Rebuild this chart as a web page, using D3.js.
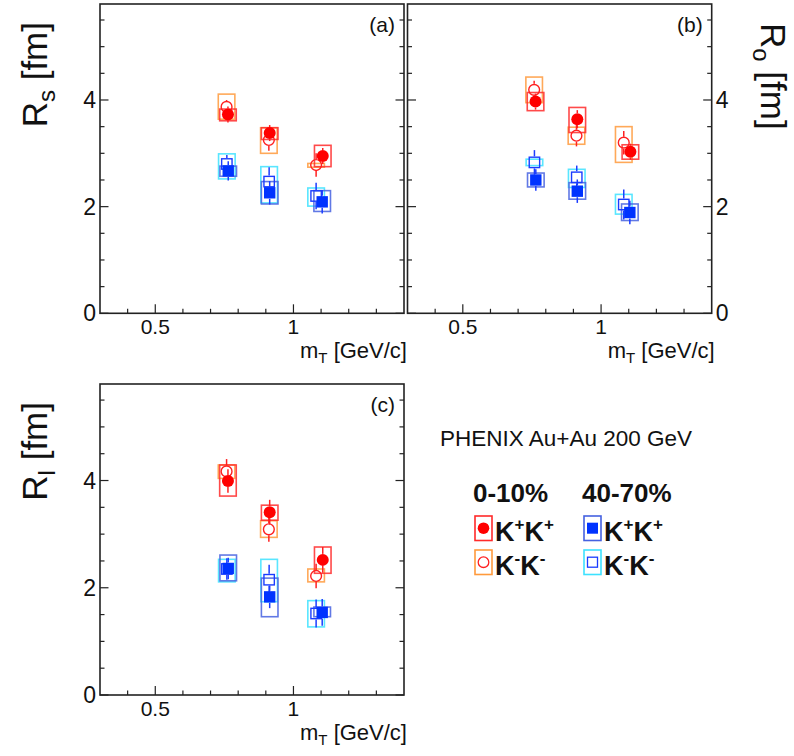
<!DOCTYPE html>
<html><head><meta charset="utf-8">
<script src="https://cdn.jsdelivr.net/npm/d3@7"></script>
<style>
body{margin:0;background:#fff;}
svg{display:block;font-family:"Liberation Sans",Arial,Helvetica,sans-serif;}
</style></head>
<body><svg id="chart" width="794" height="756"></svg>
<script>
// ---------- data ----------
const xDomain = [0.3, 1.4];
const yDomain = [0, 5.8];
const xMajorTicks = [0.5, 1];
const xTickLabels = ["0.5", "1"];
const yMajorTicks = [0, 2, 4];
const yTickLabels = ["0", "2", "4"];
const sysHalfWidth = 0.03;

const mT_0010_KpKp = [0.763, 0.914, 1.106];
const mT_0010_KmKm = [0.758, 0.911, 1.082];
const mT_4070_KpKp = [0.764, 0.914, 1.104];
const mT_4070_KmKm = [0.759, 0.912, 1.082];

// Panel (a) R_s
const Rs_0010_KpKp = [3.73, 3.38, 2.95], Rs_0010_KpKp_stat = [0.15, 0.15, 0.15], Rs_0010_KpKp_sysLo = [3.61, 3.26, 2.75], Rs_0010_KpKp_sysHi = [3.83, 3.48, 3.15];
const Rs_0010_KmKm = [3.87, 3.25, 2.78], Rs_0010_KmKm_stat = [0.13, 0.20, 0.22], Rs_0010_KmKm_sysLo = [3.64, 3.00, 2.74], Rs_0010_KmKm_sysHi = [4.11, 3.48, 2.81];
const Rs_4070_KpKp = [2.67, 2.26, 2.09], Rs_4070_KpKp_stat = [0.18, 0.22, 0.22], Rs_4070_KpKp_sysLo = [2.57, 2.05, 1.91], Rs_4070_KpKp_sysHi = [2.76, 2.47, 2.30];
const Rs_4070_KmKm = [2.80, 2.47, 2.20], Rs_4070_KmKm_stat = [0.17, 0.27, 0.25], Rs_4070_KmKm_sysLo = [2.52, 2.07, 2.01], Rs_4070_KmKm_sysHi = [2.99, 2.75, 2.35];

// Panel (b) R_o
const Ro_0010_KpKp = [3.97, 3.64, 3.03], Ro_0010_KpKp_stat = [0.15, 0.17, 0.15], Ro_0010_KpKp_sysLo = [3.80, 3.39, 2.89], Ro_0010_KpKp_sysHi = [4.14, 3.86, 3.16];
const Ro_0010_KmKm = [4.19, 3.33, 3.20], Ro_0010_KmKm_stat = [0.17, 0.20, 0.22], Ro_0010_KmKm_sysLo = [3.95, 3.17, 2.83], Ro_0010_KmKm_sysHi = [4.43, 3.49, 3.50];
const Ro_4070_KpKp = [2.50, 2.29, 1.89], Ro_4070_KpKp_stat = [0.20, 0.22, 0.22], Ro_4070_KpKp_sysLo = [2.37, 2.14, 1.74], Ro_4070_KpKp_sysHi = [2.63, 2.45, 2.05];
const Ro_4070_KmKm = [2.83, 2.55, 2.04], Ro_4070_KmKm_stat = [0.23, 0.22, 0.28], Ro_4070_KmKm_sysLo = [2.77, 2.36, 1.86], Ro_4070_KmKm_sysHi = [2.89, 2.70, 2.23];

// Panel (c) R_l
const Rl_0010_KpKp = [3.99, 3.41, 2.52], Rl_0010_KpKp_stat = [0.22, 0.23, 0.24], Rl_0010_KpKp_sysLo = [3.71, 3.26, 2.27], Rl_0010_KpKp_sysHi = [4.29, 3.54, 2.76];
const Rl_0010_KmKm = [4.17, 3.09, 2.22], Rl_0010_KmKm_stat = [0.23, 0.23, 0.23], Rl_0010_KmKm_sysLo = [4.04, 2.94, 2.11], Rl_0010_KmKm_sysHi = [4.29, 3.25, 2.35];
const Rl_4070_KpKp = [2.36, 1.83, 1.54], Rl_4070_KpKp_stat = [0.20, 0.21, 0.25], Rl_4070_KpKp_sysLo = [2.13, 1.46, 1.46], Rl_4070_KpKp_sysHi = [2.61, 2.18, 1.64];
const Rl_4070_KmKm = [2.35, 2.15, 1.52], Rl_4070_KmKm_stat = [0.20, 0.28, 0.26], Rl_4070_KmKm_sysLo = [2.11, 1.74, 1.27], Rl_4070_KmKm_sysHi = [2.53, 2.53, 1.76];

const panelLabels = ["(a)", "(b)", "(c)"];
const legendTitle = "PHENIX Au+Au 200 GeV";
const centralityLabels = ["0-10%", "40-70%"];

// ---------- styles ----------
const style = {
  "0010_KpKp": {box: "#ff2a2a", mk: "#ff0000", err: "#ff2020", shape: "circle", filled: true},
  "0010_KmKm": {box: "#ff9a3c", mk: "#ff2020", err: "#ff2020", shape: "circle", filled: false},
  "4070_KpKp": {box: "#4561e0", mk: "#0033ff", err: "#1a3cff", shape: "square", filled: true},
  "4070_KmKm": {box: "#3de2ff", mk: "#1a3cff", err: "#1a3cff", shape: "square", filled: false}
};

function series(key, mT, v, stat, lo, hi) {
  return {key, pts: mT.map((m, i) => ({m, v: v[i], s: stat[i], lo: lo[i], hi: hi[i]}))};
}
const panelData = [
  [series("0010_KmKm", mT_0010_KmKm, Rs_0010_KmKm, Rs_0010_KmKm_stat, Rs_0010_KmKm_sysLo, Rs_0010_KmKm_sysHi),
   series("0010_KpKp", mT_0010_KpKp, Rs_0010_KpKp, Rs_0010_KpKp_stat, Rs_0010_KpKp_sysLo, Rs_0010_KpKp_sysHi),
   series("4070_KmKm", mT_4070_KmKm, Rs_4070_KmKm, Rs_4070_KmKm_stat, Rs_4070_KmKm_sysLo, Rs_4070_KmKm_sysHi),
   series("4070_KpKp", mT_4070_KpKp, Rs_4070_KpKp, Rs_4070_KpKp_stat, Rs_4070_KpKp_sysLo, Rs_4070_KpKp_sysHi)],
  [series("0010_KmKm", mT_0010_KmKm, Ro_0010_KmKm, Ro_0010_KmKm_stat, Ro_0010_KmKm_sysLo, Ro_0010_KmKm_sysHi),
   series("0010_KpKp", mT_0010_KpKp, Ro_0010_KpKp, Ro_0010_KpKp_stat, Ro_0010_KpKp_sysLo, Ro_0010_KpKp_sysHi),
   series("4070_KmKm", mT_4070_KmKm, Ro_4070_KmKm, Ro_4070_KmKm_stat, Ro_4070_KmKm_sysLo, Ro_4070_KmKm_sysHi),
   series("4070_KpKp", mT_4070_KpKp, Ro_4070_KpKp, Ro_4070_KpKp_stat, Ro_4070_KpKp_sysLo, Ro_4070_KpKp_sysHi)],
  [series("0010_KmKm", mT_0010_KmKm, Rl_0010_KmKm, Rl_0010_KmKm_stat, Rl_0010_KmKm_sysLo, Rl_0010_KmKm_sysHi),
   series("0010_KpKp", mT_0010_KpKp, Rl_0010_KpKp, Rl_0010_KpKp_stat, Rl_0010_KpKp_sysLo, Rl_0010_KpKp_sysHi),
   series("4070_KmKm", mT_4070_KmKm, Rl_4070_KmKm, Rl_4070_KmKm_stat, Rl_4070_KmKm_sysLo, Rl_4070_KmKm_sysHi),
   series("4070_KpKp", mT_4070_KpKp, Rl_4070_KpKp, Rl_4070_KpKp_stat, Rl_4070_KpKp_sysLo, Rl_4070_KpKp_sysHi)]
];

// ---------- layout ----------
const panels = [
  {x0: 100, x1: 404, y0: 4, y1: 313.3, labelSide: "left", title: ["R", "s", " [fm]"]},
  {x0: 407.5, x1: 711.7, y0: 4, y1: 313.3, labelSide: "right", title: ["R", "o", " [fm]"]},
  {x0: 100, x1: 404, y0: 384, y1: 695, labelSide: "left", title: ["R", "l", " [fm]"]}
];
const svg = d3.select("#chart");
const FRAME = "#222";
const MR = 6;

panels.forEach((p, pi) => {
  const xs = d3.scaleLinear().domain(xDomain).range([p.x0, p.x1]);
  const ys = d3.scaleLinear().domain(yDomain).range([p.y1, p.y0]);
  const g = svg.append("g");

  // x ticks (bottom only)
  const xMinor = d3.range(4, 14).map(d => d / 10);
  g.selectAll(".xt").data(xMinor).join("line")
    .attr("x1", d => xs(d)).attr("x2", d => xs(d))
    .attr("y1", p.y1).attr("y2", d => p.y1 - (xMajorTicks.some(t => Math.abs(t - d) < 1e-6) ? 9 : 4.5))
    .attr("stroke", FRAME).attr("stroke-width", 1.2);
  g.selectAll(".xl").data(xMajorTicks).join("text")
    .attr("x", d => xs(d)).attr("y", p.y1 + 21).attr("text-anchor", "middle")
    .attr("font-size", 21).attr("fill", "#111").text((d, i) => xTickLabels[i]);

  // y ticks both sides
  const yMinor = d3.range(0, 12).map(d => d / 2).filter(d => d <= yDomain[1]);
  [p.x0, p.x1].forEach((ax, side) => {
    const dir = side === 0 ? 1 : -1;
    g.selectAll(".yt" + side).data(yMinor).join("line")
      .attr("x1", ax).attr("x2", d => ax + dir * (yMajorTicks.includes(d) ? 8.5 : 4.5))
      .attr("y1", d => ys(d)).attr("y2", d => ys(d))
      .attr("stroke", FRAME).attr("stroke-width", 1.2);
  });
  const left = p.labelSide === "left";
  g.selectAll(".yl").data(yMajorTicks).join("text")
    .attr("x", left ? p.x0 - 4 : p.x1 + 4).attr("y", d => ys(d) + 8)
    .attr("text-anchor", left ? "end" : "start")
    .attr("font-size", 23).attr("fill", "#111").text((d, i) => yTickLabels[i]);

  // frame
  g.append("rect").attr("x", p.x0).attr("y", p.y0).attr("width", p.x1 - p.x0).attr("height", p.y1 - p.y0)
    .attr("fill", "none").attr("stroke", FRAME).attr("stroke-width", 1.6);

  // panel label
  g.append("text").attr("x", p.x1 - 9).attr("y", p.y0 + 28).attr("text-anchor", "end")
    .attr("font-size", 21).attr("fill", "#111").text(panelLabels[pi]);

  // x title
  const xt = g.append("text").attr("x", p.x1 + 3).attr("y", p.y1 + 45).attr("text-anchor", "end")
    .attr("font-size", 22).attr("fill", "#111");
  xt.append("tspan").text("m");
  xt.append("tspan").attr("font-size", 15).attr("dy", 5).text("T");
  xt.append("tspan").attr("dy", -5).text(" [GeV/c]");

  // y title
  let yt;
  if (left) {
    yt = g.append("text").attr("transform", `translate(47,${p.y0 + 18}) rotate(-90)`).attr("text-anchor", "end");
  } else {
    yt = g.append("text").attr("transform", `translate(761,${p.y0 + 19}) rotate(90)`).attr("text-anchor", "start");
  }
  yt.attr("font-size", 35).attr("fill", "#111");
  yt.append("tspan").text(p.title[0]);
  yt.append("tspan").attr("font-size", 24).attr("dy", 8).text(p.title[1]);
  yt.append("tspan").attr("dy", -8).text(p.title[2]);

  // data: systematic boxes
  const data = panelData[pi];
  data.forEach(s => {
    const st = style[s.key];
    g.selectAll(null).data(s.pts).join("rect")
      .attr("x", d => xs(d.m - sysHalfWidth)).attr("width", d => xs(d.m + sysHalfWidth) - xs(d.m - sysHalfWidth))
      .attr("y", d => ys(d.hi)).attr("height", d => ys(d.lo) - ys(d.hi))
      .attr("fill", "none").attr("stroke", st.box).attr("stroke-width", 1.6).attr("stroke-opacity", 0.85);
  });
  // stat error bars (skip inside marker)
  data.forEach(s => {
    const st = style[s.key];
    s.pts.forEach(d => {
      const cx = xs(d.m), cy = ys(d.v);
      const top = ys(d.v + d.s), bot = ys(d.v - d.s);
      if (top < cy - MR) g.append("line").attr("x1", cx).attr("x2", cx).attr("y1", top).attr("y2", cy - MR)
        .attr("stroke", st.err).attr("stroke-width", 1.5);
      if (bot > cy + MR) g.append("line").attr("x1", cx).attr("x2", cx).attr("y1", cy + MR).attr("y2", bot)
        .attr("stroke", st.err).attr("stroke-width", 1.5);
    });
  });
  // markers
  data.forEach(s => {
    const st = style[s.key];
    if (st.shape === "circle") {
      g.selectAll(null).data(s.pts).join("circle")
        .attr("cx", d => xs(d.m)).attr("cy", d => ys(d.v)).attr("r", st.filled ? MR : MR - 0.6)
        .attr("fill", st.filled ? st.mk : "none").attr("stroke", st.mk).attr("stroke-width", st.filled ? 0 : 1.4);
    } else {
      const h = st.filled ? MR - 0.3 : MR - 0.8;
      g.selectAll(null).data(s.pts).join("rect")
        .attr("x", d => xs(d.m) - h).attr("y", d => ys(d.v) - h).attr("width", 2 * h).attr("height", 2 * h)
        .attr("fill", st.filled ? st.mk : "none").attr("stroke", st.mk).attr("stroke-width", st.filled ? 0 : 1.4);
    }
  });
});

// ---------- legend ----------
const lg = svg.append("g");
lg.append("text").attr("x", 440).attr("y", 446).attr("font-size", 22.5).attr("fill", "#111").text(legendTitle);
lg.append("text").attr("x", 473).attr("y", 502).attr("font-size", 26).attr("font-weight", "bold").attr("fill", "#111").text(centralityLabels[0]);
lg.append("text").attr("x", 582).attr("y", 502).attr("font-size", 26).attr("font-weight", "bold").attr("fill", "#111").text(centralityLabels[1]);

const legendEntries = [
  {key: "0010_KpKp", bx: 475, by: 516, sign: "+"},
  {key: "0010_KmKm", bx: 475, by: 550, sign: "-"},
  {key: "4070_KpKp", bx: 584, by: 516, sign: "+"},
  {key: "4070_KmKm", bx: 584, by: 550, sign: "-"}
];
legendEntries.forEach(e => {
  const st = style[e.key];
  lg.append("rect").attr("x", e.bx).attr("y", e.by).attr("width", 17).attr("height", 24.5)
    .attr("fill", "none").attr("stroke", st.box).attr("stroke-width", 1.6);
  const cx = e.bx + 8.5, cy = e.by + 12.2;
  if (st.shape === "circle") {
    lg.append("circle").attr("cx", cx).attr("cy", cy).attr("r", st.filled ? 5.8 : 5.3)
      .attr("fill", st.filled ? st.mk : "none").attr("stroke", st.mk).attr("stroke-width", st.filled ? 0 : 1.3);
  } else {
    const h = st.filled ? 5.5 : 5;
    lg.append("rect").attr("x", cx - h).attr("y", cy - h).attr("width", 2 * h).attr("height", 2 * h)
      .attr("fill", st.filled ? st.mk : "none").attr("stroke", st.mk).attr("stroke-width", st.filled ? 0 : 1.3);
  }
  const t = lg.append("text").attr("x", e.bx + 20).attr("y", e.by + 24.5).attr("font-size", 27)
    .attr("font-weight", "bold").attr("fill", "#111");
  t.append("tspan").text("K");
  t.append("tspan").attr("font-size", 17).attr("dy", -11).text(e.sign);
  t.append("tspan").attr("dy", 11).text("K");
  t.append("tspan").attr("font-size", 17).attr("dy", -11).text(e.sign);
});
</script></body></html>
